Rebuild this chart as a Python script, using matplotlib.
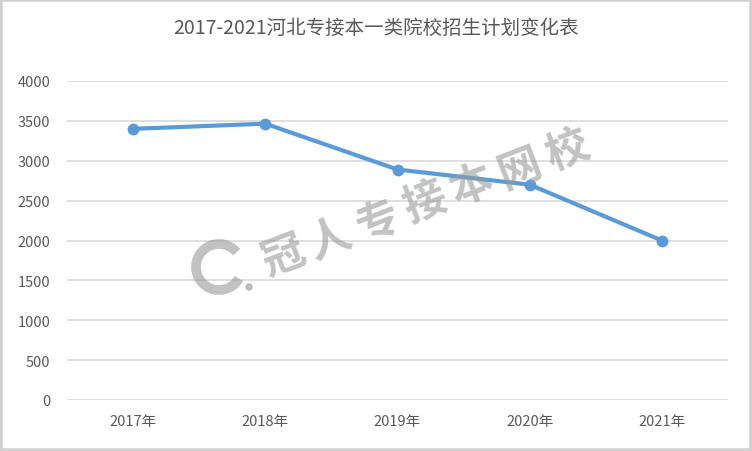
import matplotlib
matplotlib.use("Agg")
import matplotlib.pyplot as plt
from matplotlib.patches import Arc, Circle

plt.rcParams['font.family'] = ['Noto Sans CJK SC', 'DejaVu Sans']

# data
years = ["2017年", "2018年", "2019年", "2020年", "2021年"]
plans = [3400, 3465, 2890, 2700, 2000]
yticks = [0, 500, 1000, 1500, 2000, 2500, 3000, 3500, 4000]

text_gray = '#595959'
grid_gray = '#d9d9d9'
blue = '#5b9bd5'
mark_gray = '#9a9a9a'

fig = plt.figure(figsize=(7.52, 4.52), dpi=100)
ax = fig.add_axes([67 / 752, 1 - 401 / 452, (728 - 67) / 752, (401 - 82) / 452])

ax.plot(range(len(years)), plans, color=blue, linewidth=3,
        marker='o', markersize=7.5, zorder=3)

ax.set_xlim(-0.5, len(years) - 0.5)
ax.set_ylim(0, 4000)
ax.set_yticks(yticks)
ax.set_xticks(range(len(years)))
ax.set_xticklabels(years)

ax.yaxis.grid(True, color=grid_gray, linewidth=1.2)
ax.set_axisbelow(True)
for s in ax.spines.values():
    s.set_visible(False)
ax.tick_params(length=0, colors=text_gray, labelsize=10.5)
ax.tick_params(axis='x', pad=10)
ax.tick_params(axis='y', pad=12)

fig.text(0.5, 1 - 28 / 452, "2017-2021河北专接本一类院校招生计划变化表",
         ha='center', va='center', fontsize=14, color=text_gray)

# watermark, one character at a time along a slanted line
mark = "冠人专接本网校"
x0, y0 = 283, 257
for i, ch in enumerate(mark):
    fig.text((x0 + i * 47.3) / 752, 1 - (y0 - i * 17.8) / 452, ch,
             ha='center', va='center', rotation=21, fontsize=31,
             fontweight='bold', color=mark_gray, alpha=0.6, zorder=5)
logo = Arc((219 / 752 * 7.52, (1 - 268 / 452) * 4.52), 0.46, 0.46, theta1=40, theta2=330,
           transform=fig.dpi_scale_trans, color=mark_gray, linewidth=7, alpha=0.6)
fig.add_artist(logo)
dot = Circle((249 / 752 * 7.52, (1 - 288 / 452) * 4.52), 0.03,
             transform=fig.dpi_scale_trans, color=mark_gray, alpha=0.6)
fig.add_artist(dot)

# grey frame around the picture
fig.patches.append(plt.Rectangle((0, 0), 1, 1, transform=fig.transFigure,
                                 fill=False, edgecolor='#d0d0d0', linewidth=4))

fig.savefig("out.png", dpi=100)
